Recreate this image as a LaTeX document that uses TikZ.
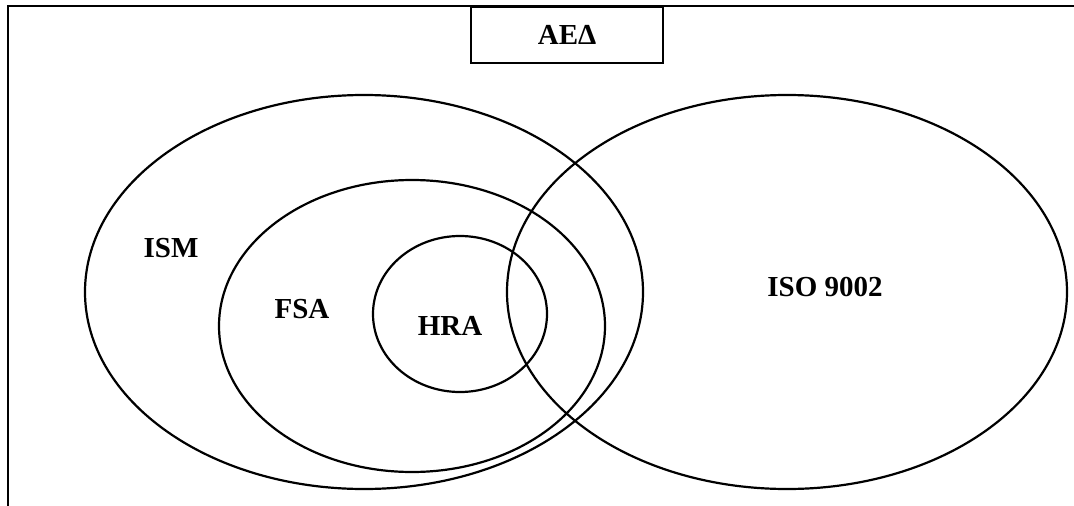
\documentclass[tikz,border=0pt]{standalone}
\usepackage{fontspec}
\setmainfont{Liberation Serif}
\usetikzlibrary{shapes.geometric}
\begin{document}
\begin{tikzpicture}[x=1pt,y=-1pt,
  line width=2.2pt,
  set/.style={ellipse, draw, inner sep=0pt, outer sep=0pt},
  lbl/.style={font=\fontsize{29}{34}\selectfont\bfseries, inner sep=0pt}]
  \useasboundingbox (0,0) rectangle (1074,506);
  % open frame: left and top edges
  \coordinate (fbl) at (8,506);
  \coordinate (ftl) at (8,6);
  \coordinate (ftr) at (1074,6);
  \draw (fbl) -- (ftl) -- (ftr);
  % title box hanging from the top edge
  \node[draw, minimum width=192pt, minimum height=56pt, inner sep=0pt, anchor=north west] (title) at (470,6) {};
  \node[lbl] (titletext) at (title.center) {ΑΕΔ};
  % sets
  \node[set, minimum width=558pt, minimum height=394pt] (ism) at (364,292) {};
  \node[set, minimum width=386pt, minimum height=292pt] (fsa) at (412,326) {};
  \node[set, minimum width=174pt, minimum height=156pt] (hra) at (460,314) {};
  \node[set, minimum width=560pt, minimum height=394pt] (iso) at (787,292) {};
  % set labels
  \node[lbl] (ismtext) at (171,248) {ISM};
  \node[lbl] (fsatext) at (302,309) {FSA};
  \node[lbl] (hratext) at (450,326) {HRA};
  \node[lbl] (isotext) at (825,287) {ISO 9002};
\end{tikzpicture}
\end{document}
